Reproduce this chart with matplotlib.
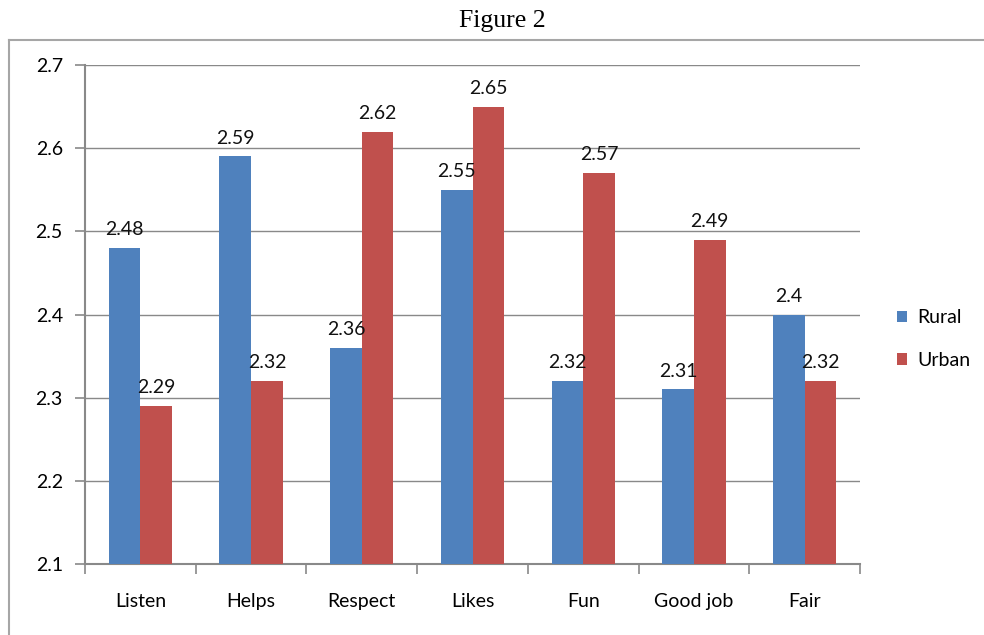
import matplotlib
matplotlib.use("Agg")
import matplotlib.pyplot as plt
import numpy as np
from matplotlib.lines import Line2D

categories = ["Listen", "Helps", "Respect", "Likes", "Fun", "Good job", "Fair"]
rural = [2.48, 2.59, 2.36, 2.55, 2.32, 2.31, 2.40]
urban = [2.29, 2.32, 2.62, 2.65, 2.57, 2.49, 2.32]
rural_labels = ["2.48", "2.59", "2.36", "2.55", "2.32", "2.31", "2.4"]
urban_labels = ["2.29", "2.32", "2.62", "2.65", "2.57", "2.49", "2.32"]
yticks = [2.1, 2.2, 2.3, 2.4, 2.5, 2.6, 2.7]

font = "Lato"
fs = 14
blue = "#4F81BD"
red = "#C0504D"
gray = "#898989"

fig = plt.figure(figsize=(9.84, 6.35), dpi=100)
ax = fig.add_axes([85/984, 71/635, 775/984, 499/635])

x = np.arange(len(categories))
w = 0.286
b1 = ax.bar(x - w/2, np.array(rural) - 2.1, w, bottom=2.1, color=blue, zorder=3)
b2 = ax.bar(x + w/2, np.array(urban) - 2.1, w, bottom=2.1, color=red, zorder=3)

for xi, v, lab in zip(x - w/2, rural, rural_labels):
    ax.annotate(lab, (xi, v), xytext=(0, 7), textcoords="offset points",
                ha="center", va="bottom", fontsize=fs, family=font, color="#111111", zorder=4)
for xi, v, lab in zip(x + w/2, urban, urban_labels):
    ax.annotate(lab, (xi, v), xytext=(0, 7), textcoords="offset points",
                ha="center", va="bottom", fontsize=fs, family=font, color="#111111", zorder=4)

ax.set_xlim(-0.5, len(categories) - 0.5)
ax.set_ylim(2.1, 2.7)
ax.set_yticks(yticks)
ax.set_yticklabels([f"{t:.1f}" for t in yticks], family=font, fontsize=fs)
ax.yaxis.grid(True, color=gray, linewidth=1, zorder=0)
ax.set_axisbelow(True)

ax.set_xticks(x)
ax.set_xticklabels(categories, family=font, fontsize=fs)
ax.set_xticks(np.arange(len(categories) + 1) - 0.5, minor=True)
ax.tick_params(axis="x", which="major", length=0, pad=21)
ax.tick_params(axis="x", which="minor", length=7, width=1.2, color=gray)
ax.tick_params(axis="y", length=7, width=1.2, color=gray, pad=9)

for s in ["top", "right"]:
    ax.spines[s].set_visible(False)
for s in ["left", "bottom"]:
    ax.spines[s].set_color(gray)
    ax.spines[s].set_linewidth(1.5)

handles = [b1, b2]
leg = fig.legend(handles, ["Rural", "Urban"], loc="center left",
                 bbox_to_anchor=(879/984, 1 - 339/635), frameon=False,
                 prop={"family": font, "size": fs}, handlelength=0.55,
                 handleheight=0.55, handletextpad=0.5, labelspacing=1.3)

# outer chart border
fig.add_artist(Line2D([9/984, 9/984], [0, 1 - 40/635], transform=fig.transFigure,
                      color="#a6a6a6", linewidth=1.5))
fig.add_artist(Line2D([9/984, 1.0], [1 - 40/635, 1 - 40/635], transform=fig.transFigure,
                      color="#a6a6a6", linewidth=1.5))

fig.text(502/984, 1 - 21/635, "Figure 2", ha="center", va="center",
         family="Liberation Serif", fontsize=18.5)

fig.savefig("out.png", dpi=100)
